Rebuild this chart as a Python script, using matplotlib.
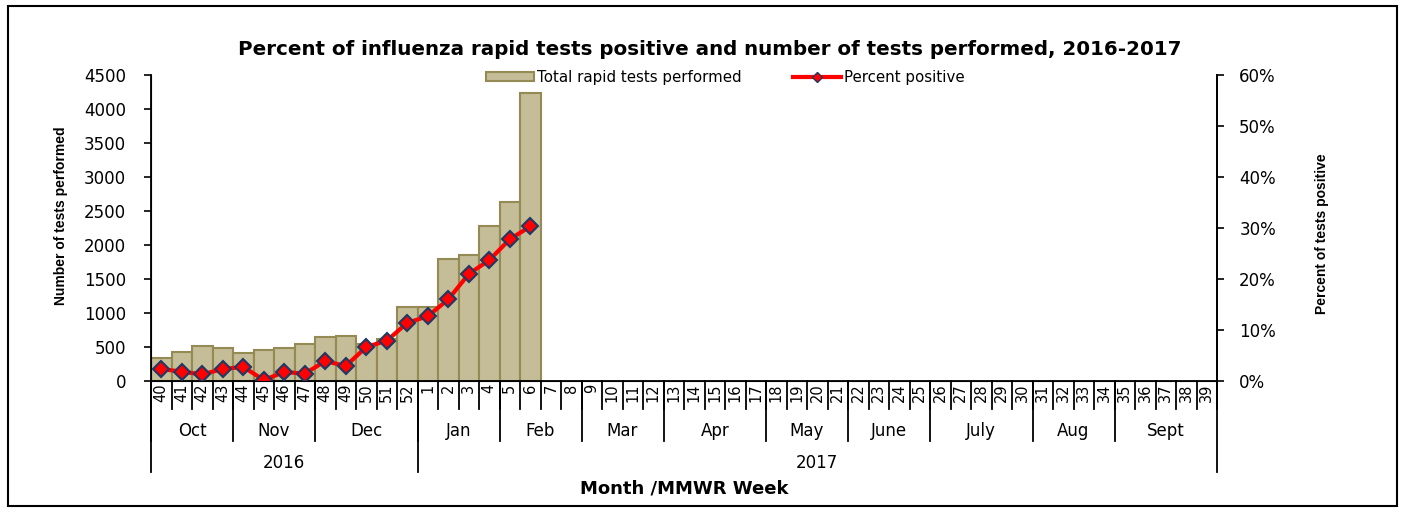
"""
Influenza rapid tests, 2016-2017 season
"""
import numpy as np
import matplotlib.pyplot as plt
from matplotlib.patches import Rectangle
from matplotlib.lines import Line2D
from matplotlib.ticker import PercentFormatter

# MMWR weeks, week 40 of 2016 to week 39 of 2017
weeks = list(range(40, 53)) + list(range(1, 40))
# tests performed and percent positive, only up to week 6 reported
tests = [333, 426, 510, 485, 417, 451, 485, 544, 652, 667, 540, 613, 1093,
         1093, 1794, 1853, 2284, 2637, 4240]
pct_pos = [2.35, 1.83, 1.3, 2.35, 2.75, 0.2, 1.76, 1.44, 3.9, 2.94, 6.67, 7.9,
           11.4, 12.7, 16.0, 21.0, 23.7, 27.8, 30.3]

months = ['Oct', 'Nov', 'Dec', 'Jan', 'Feb', 'Mar', 'Apr', 'May', 'June',
          'July', 'Aug', 'Sept']
month_len = [4, 4, 5, 4, 4, 4, 5, 4, 4, 5, 4, 5]
years = ['2016', '2017']
year_len = [13, 39]

bar_color = '#C4BD97'
bar_edge = '#948A54'
narrow = ['Liberation Sans Narrow', 'Liberation Sans', 'DejaVu Sans']

fig = plt.figure(figsize=(14.05, 5.08), dpi=100)
ax = fig.add_axes([0.1075, 0.25, 0.7587, 0.6024])

x = np.arange(len(tests))
ax.bar(x, tests, width=1.0, color=bar_color, edgecolor=bar_edge, linewidth=1.5)
ax.set_xlim(-0.5, len(weeks) - 0.5)
ax.set_ylim(0, 4500)
ax.set_yticks(range(0, 4501, 500))
ax.tick_params(axis='y', direction='out', length=5, labelsize=12, width=1.2,
               pad=13)
ax.set_xticks([])
ax.spines['top'].set_visible(False)
for s in ['left', 'bottom', 'right']:
    ax.spines[s].set_linewidth(1.3)
ax.set_ylabel('Number of tests performed', family=narrow, fontweight='bold',
              fontsize=10)
ax.yaxis.set_label_coords(-0.078, 0.54)

# percent positive on the right axis
ax2 = ax.twinx()
ax2.plot(x, pct_pos, color='red', lw=3, marker='D', markersize=8,
         markerfacecolor='red', markeredgecolor='#1F3864', markeredgewidth=1.5)
ax2.set_ylim(0, 60)
ax2.set_yticks(range(0, 61, 10))
ax2.yaxis.set_major_formatter(PercentFormatter(decimals=0))
ax2.tick_params(axis='y', direction='out', length=5, labelsize=12, width=1.2,
                pad=11)
ax2.spines['top'].set_visible(False)
ax2.spines['right'].set_linewidth(1.3)
ax2.set_ylabel('Percent of tests positive', family=narrow, fontweight='bold',
               fontsize=10)
ax2.yaxis.set_label_coords(1.092, 0.48)

# hierarchical x axis: week / month / year
tr = ax.get_xaxis_transform()
for i, w in enumerate(weeks):
    ax.text(i, -0.008, str(w), transform=tr, rotation=90, ha='center',
            va='top', fontsize=10.5)
for i in range(len(weeks) + 1):
    ax.plot([i - 0.5, i - 0.5], [0, -0.092], transform=tr, color='black',
            lw=1.3, clip_on=False)

start = 0
for m, n in zip(months, month_len):
    ax.text(start + n / 2 - 0.5, -0.163, m, transform=tr, ha='center',
            va='center', fontsize=12)
    ax.plot([start - 0.5, start - 0.5], [0, -0.197], transform=tr,
            color='black', lw=1.3, clip_on=False)
    start += n

start = 0
for yr, n in zip(years, year_len):
    ax.text(start + n / 2 - 0.5, -0.268, yr, transform=tr, ha='center',
            va='center', fontsize=12)
    ax.plot([start - 0.5, start - 0.5], [0, -0.298], transform=tr,
            color='black', lw=1.3, clip_on=False)
    start += n
ax.plot([start - 0.5, start - 0.5], [0, -0.298], transform=tr,
        color='black', lw=1.3, clip_on=False)

ax.text(0.5, -0.35, 'Month /MMWR Week', transform=ax.transAxes, ha='center',
        va='center', fontsize=13, fontweight='bold')

fig.text(0.505, 0.902, 'Percent of influenza rapid tests positive and number '
         'of tests performed, 2016-2017', ha='center', va='center',
         fontsize=14.3, fontweight='bold')

# legend
h1 = Rectangle((0, 0), 1, 1, facecolor=bar_color, edgecolor=bar_edge, lw=1.5)
h2 = Line2D([], [], color='red', lw=3, marker='D', markersize=5,
            markerfacecolor='red', markeredgecolor='#1F3864')
fig.legend([h1, h2], ['Total rapid tests performed', 'Percent positive'],
           loc='center', bbox_to_anchor=(0.5164, 0.848), ncol=2,
           frameon=False, fontsize=10.8, handlelength=3.2, handleheight=0.6,
           handletextpad=0.2, columnspacing=3.4)

# frame round the whole chart
fig.patches.append(Rectangle((0.0057, 0.004), 0.9886, 0.984,
                             transform=fig.transFigure, fill=False,
                             edgecolor='black', lw=1.5))

plt.savefig('out.png', dpi=100)
